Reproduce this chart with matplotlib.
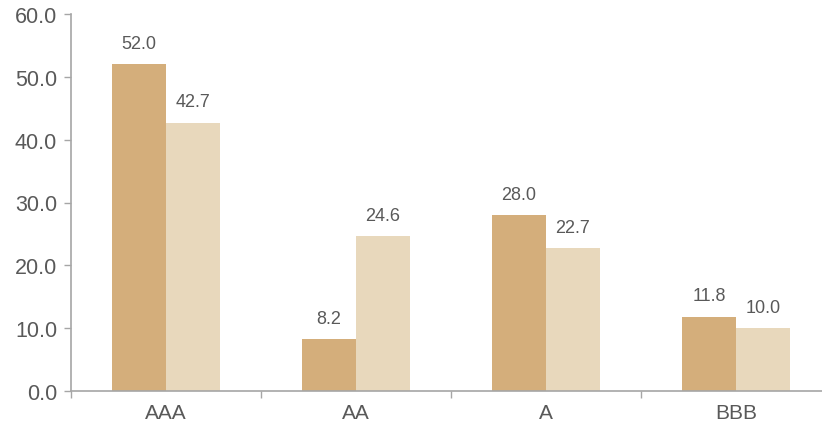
import matplotlib.pyplot as plt
import numpy as np

plt.rcParams['font.family'] = ['Liberation Sans', 'DejaVu Sans']

# Ratings and the two series per rating
ratings = ['AAA', 'AA', 'A', 'BBB']
series_a = [52.0, 8.2, 28.0, 11.8]
series_b = [42.7, 24.6, 22.7, 10.0]

dark = '#D4AE7B'
light = '#E8D8BC'
text_gray = '#595959'
axis_gray = '#A6A6A6'


def main():
    fig = plt.figure(figsize=(8.22, 4.31), dpi=100)
    ax = fig.add_axes([71 / 822, 39 / 431, 760 / 822, 377 / 431])

    x = np.arange(len(ratings))
    w = 0.284
    bars_a = ax.bar(x - w / 2, series_a, w, color=dark)
    bars_b = ax.bar(x + w / 2, series_b, w, color=light)

    for bars, vals in ((bars_a, series_a), (bars_b, series_b)):
        for b, v in zip(bars, vals):
            ax.annotate(f'{v:.1f}', (b.get_x() + b.get_width() / 2, v),
                        xytext=(0, 9), textcoords='offset points',
                        ha='center', va='bottom', fontsize=13, color=text_gray)

    ax.set_xlim(-0.5, len(ratings) - 0.5)
    ax.set_ylim(0, 60)
    ax.set_yticks(np.arange(0, 61, 10))
    ax.set_yticklabels([f'{t:.1f}' for t in np.arange(0, 61, 10)])

    ax.set_xticks(x)
    ax.set_xticklabels(ratings)
    ax.set_xticks(np.arange(-0.5, len(ratings), 1), minor=True)
    ax.tick_params(axis='x', which='major', length=0, pad=9,
                   labelsize=15, labelcolor=text_gray)
    ax.tick_params(axis='x', which='minor', length=5, color=axis_gray, width=1)
    ax.tick_params(axis='y', length=5, color=axis_gray, width=1, pad=5,
                   labelsize=15.5, labelcolor=text_gray)

    for s in ('top', 'right'):
        ax.spines[s].set_visible(False)
    for s in ('left', 'bottom'):
        ax.spines[s].set_color(axis_gray)
        ax.spines[s].set_linewidth(1.2)

    fig.savefig('out.png', dpi=100)


if __name__ == "__main__":
    main()
